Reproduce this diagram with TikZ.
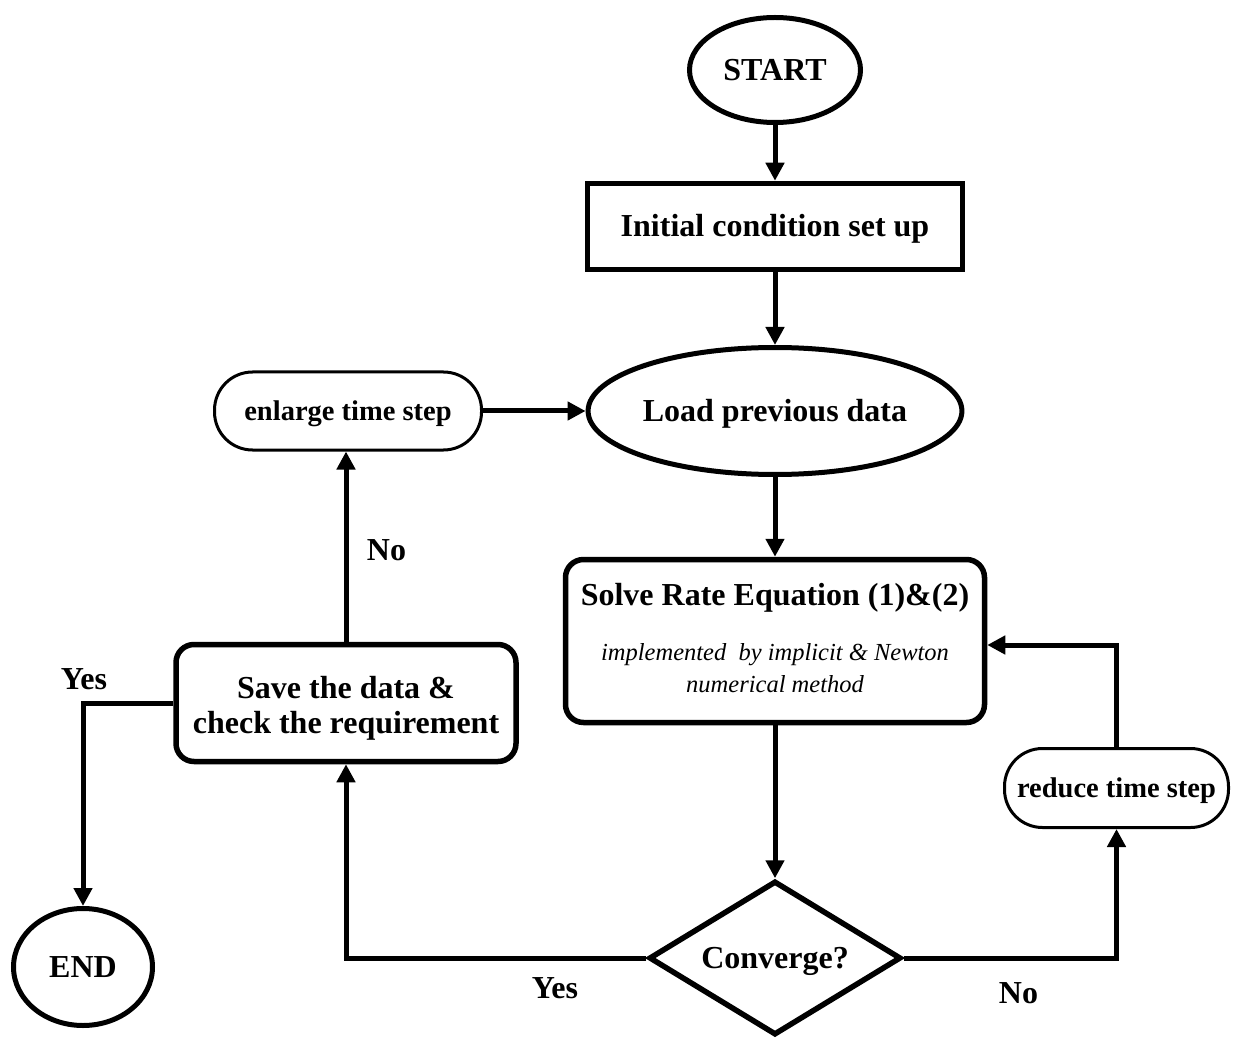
\documentclass[tikz,border=0pt]{standalone}
\usepackage{fontspec}
\setmainfont{Liberation Serif}
\usetikzlibrary{shapes.geometric,arrows.meta,calc}
\begin{document}
\begin{tikzpicture}[x=1pt,y=-1pt,
  every node/.style={font=\bfseries\fontsize{32}{38}\selectfont},
  term/.style={ellipse, draw, line width=5pt, inner sep=0pt,
    text height=21pt, text depth=0pt},
  plainbox/.style={rectangle, draw, line width=5.5pt, inner sep=0pt,
    text height=21pt, text depth=0pt},
  roundbox/.style={rectangle, draw, line width=5.5pt, inner sep=0pt,
    rounded corners=18pt},
  pill/.style={rectangle, draw, line width=3pt, inner sep=0pt,
    rounded corners=38pt, font=\bfseries\fontsize{28.5}{34}\selectfont,
    text height=19pt, text depth=0pt},
  decision/.style={diamond, draw, line width=5.5pt, inner sep=0pt, aspect=1.6,
    text height=21pt, text depth=0pt},
  txt/.style={anchor=base, inner sep=0pt},
  note/.style={anchor=base, inner sep=0pt,
    font=\itshape\fontsize{24.5}{30}\selectfont},
  flow/.style={line width=5pt, -{Triangle[length=18pt,width=18pt]}}
]
\useasboundingbox (0,0) rectangle (1237,1040);

% main column
\node[term, minimum width=171pt, minimum height=105pt] (start) at (775,70) {START};
\node[plainbox, minimum width=375pt, minimum height=86pt] (init) at (775,226.5) {Initial condition set up};
\node[term, minimum width=321pt, minimum height=127pt] (load) at (775,411) {Load previous data};
\node[roundbox, minimum width=419pt, minimum height=163pt] (solve) at (775,641) {};
\node[txt] (solvet) at (775,605) {Solve Rate Equation (1)\&(2)};
\node[note] (solven1) at (775,660) {implemented\ \ by implicit \& Newton};
\node[note] (solven2) at (775,692) {numerical method};
\node[decision, minimum width=252pt, minimum height=154pt] (conv) at (775,958) {Converge?};

% side boxes
\node[pill, minimum width=267pt, minimum height=78pt] (enlarge) at (348,411) {enlarge time step};
\node[pill, minimum width=224pt, minimum height=79pt] (reduce) at (1116.5,788) {reduce time step};
\node[roundbox, minimum width=340pt, minimum height=117pt] (save) at (346,703) {};
\node[txt] (savet1) at (346,698) {Save the data \&};
\node[txt] (savet2) at (346,733) {check the requirement};
\node[term, minimum width=139pt, minimum height=117pt] (finish) at (83,967) {END};

% connectors
\draw[flow] (start.south) -- (init.north);
\draw[flow] (init.south) -- (load.north);
\draw[flow] (load.south) -- (solve.north);
\draw[flow] (solve.south) -- (conv.north);
\draw[flow] (conv.east) -| (reduce.south);
\draw[flow] (reduce.north) |- ($(solve.east)+(0,4)$);
\draw[flow] (conv.west) -| (save.south);
\draw[flow] (save.north) -- (save.north |- enlarge.south);
\draw[flow] (enlarge.east) -- (load.west);
\draw[flow] (save.west) -| (finish.north);

% branch labels
\node[txt] (yesleft) at (84,689) {Yes};
\node[txt] (noup) at (386.5,560) {No};
\node[txt] (yesdown) at (555,998) {Yes};
\node[txt] (noright) at (1018.5,1003) {No};
\end{tikzpicture}
\end{document}
